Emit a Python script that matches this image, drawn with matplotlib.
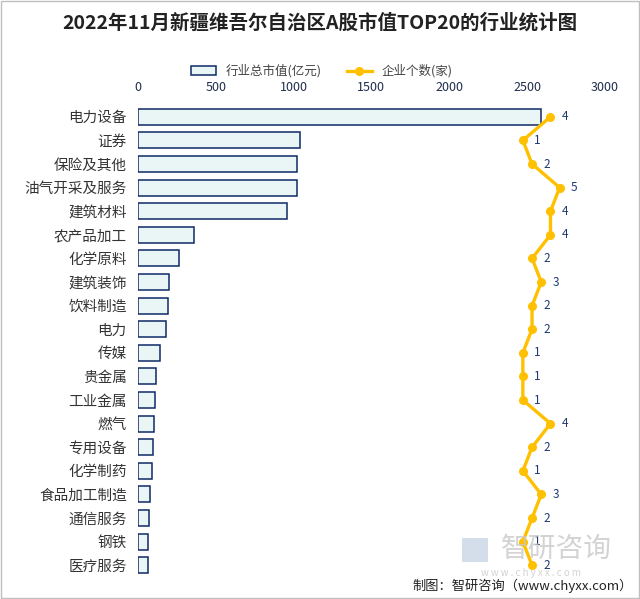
import numpy as np
import matplotlib
matplotlib.use('Agg')
import matplotlib.pyplot as plt
from matplotlib.patches import Rectangle

plt.rcParams['font.family'] = ['Noto Sans CJK SC', 'DejaVu Sans']

# 数据
industries = ['电力设备', '证券', '保险及其他', '油气开采及服务', '建筑材料', '农产品加工',
              '化学原料', '建筑装饰', '饮料制造', '电力', '传媒', '贵金属', '工业金属',
              '燃气', '专用设备', '化学制药', '食品加工制造', '通信服务', '钢铁', '医疗服务']
market_value = [2590, 1038, 1023, 1024, 959, 362, 266, 201, 195, 182,
                143, 118, 111, 105, 98, 88, 79, 73, 66, 64]
companies = [4, 1, 2, 5, 4, 4, 2, 3, 2, 2, 1, 1, 1, 4, 2, 1, 3, 2, 1, 2]
xticks = [0, 500, 1000, 1500, 2000, 2500, 3000]

bar_fill = '#eaf6f6'
bar_edge = '#0e2a66'
line_color = '#ffc000'
label_color = '#1f3a70'

fig = plt.figure(figsize=(6.4, 5.99), dpi=100)
ax = fig.add_axes([0.2156, 0.0367, 0.7294, 0.788])

y = np.arange(len(industries))
ax.barh(y, market_value, height=0.68, color=bar_fill, edgecolor=bar_edge,
        linewidth=1.1, label='行业总市值(亿元)')
ax.set_xlim(0, 3000)
ax.set_ylim(len(industries) - 0.5, -0.5)
ax.set_yticks(y)
ax.set_yticklabels(industries, fontsize=10.5, color='#333333')
for s in ax.spines.values():
    s.set_visible(False)

# 企业个数（次坐标轴）
ax2 = ax.twiny()
ax2.plot(companies, y, color=line_color, linewidth=2.4, marker='o',
         markersize=5.5, label='企业个数(家)')
ax2.set_xlim(-40.8, 9.9)
ax2.set_xticks([])
for s in ax2.spines.values():
    s.set_visible(False)
for c, yy in zip(companies, y):
    ax2.text(c + 1.6, yy, str(c), fontsize=8.5, color=label_color,
             va='center', ha='center')

# 主坐标轴刻度放在顶部（twiny 之后设置）
ax.xaxis.tick_top()
ax.set_xticks(xticks)
ax.set_xticklabels([str(t) for t in xticks], fontsize=9, color='#1f2d4d')
ax.tick_params(axis='both', length=0)
ax.tick_params(axis='y', pad=8)
ax.tick_params(axis='x', pad=8)

# 标题与图例
fig.text(0.5, 0.962, '2022年11月新疆维吾尔自治区A股市值TOP20的行业统计图',
         ha='center', va='center', fontsize=14, fontweight='bold', color='#222222')
h1, l1 = ax.get_legend_handles_labels()
h2, l2 = ax2.get_legend_handles_labels()
fig.legend(h1 + h2, l1 + l2, loc='center', bbox_to_anchor=(0.503, 0.881), ncol=2,
           frameon=False, fontsize=9, handlelength=2.0, columnspacing=2.0,
           labelcolor='#444444')

# 水印与来源
fig.text(0.87, 0.083, '智研咨询', ha='center', va='center', fontsize=20,
         color='#c8c8c8', alpha=0.8)
fig.text(0.83, 0.043, 'w w w . c h y x x . c o m', ha='center', va='center',
         fontsize=7, color='#c8c8c8', alpha=0.8)
fig.patches.append(Rectangle((0.722, 0.062), 0.04, 0.04, transform=fig.transFigure,
                             facecolor='#b8c8dc', edgecolor='none', alpha=0.6))
fig.text(0.988, 0.022, '制图：智研咨询（www.chyxx.com）', ha='right', va='center',
         fontsize=9.5, color='#222222')

# 外框
fig.patches.append(Rectangle((0.001, 0.001), 0.998, 0.998, transform=fig.transFigure,
                             fill=False, edgecolor='#bfbfbf', linewidth=1))

fig.savefig('out.png', dpi=100)
